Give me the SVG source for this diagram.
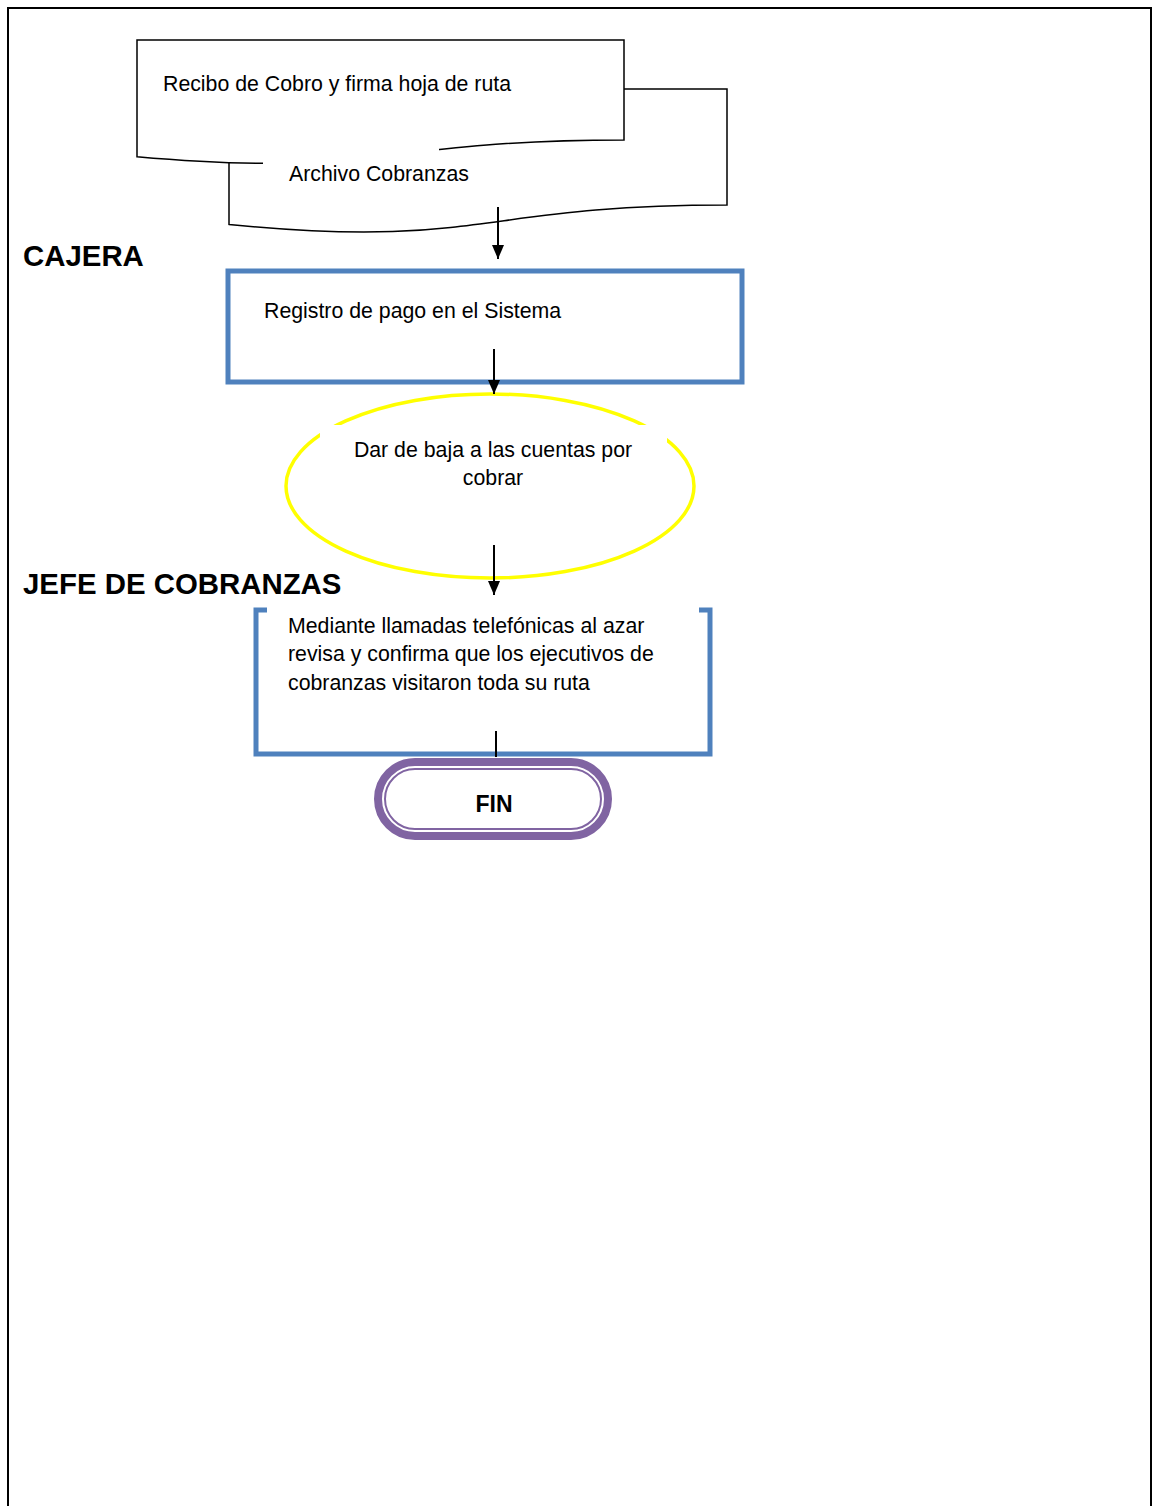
<svg xmlns="http://www.w3.org/2000/svg" width="1152" height="1506" viewBox="0 0 1152 1506">
<defs>
<marker id="ah" markerWidth="14" markerHeight="12" refX="14" refY="6" orient="auto" markerUnits="userSpaceOnUse" viewBox="0 0 14 12">
<path d="M0,0 L14,6 L0,12 Z" fill="#000"/>
</marker>
<style>
.t{font-family:"Liberation Sans",Arial,sans-serif;font-size:21.3px;fill:#000}
.b{font-family:"Liberation Sans",Arial,sans-serif;font-weight:bold;fill:#000}
.doc{fill:#fff;stroke:#000;stroke-width:1.5}
.blue{fill:none;stroke:#4f81bd;stroke-width:5}
.conn{stroke:#000;stroke-width:2;fill:none}
</style>
</defs>
<rect width="1152" height="1506" fill="#fff"/>
<path d="M8,1506 V8 H1151 V1506" fill="none" stroke="#000" stroke-width="2"/>

<g id="doc-archivo">
<path class="doc" d="M229,89 H727 V205 C478,205 478,249.6 229,224.4 Z"/>
</g>
<g id="doc-recibo">
<path class="doc" d="M137,40 H624 V140 C380.5,140 380.5,178.4 137,156.7 Z"/>
<text class="t" x="163" y="91">Recibo de Cobro y firma hoja de ruta</text>
</g>
<g id="label-archivo">
<rect x="263" y="146" width="176" height="50" fill="#fff"/>
<text class="t" x="289" y="181">Archivo Cobranzas</text>
</g>

<g id="lane-cajera">
<text class="b" x="23" y="266" font-size="29.4">CAJERA</text>
</g>
<g id="lane-jefe">
<text class="b" x="23" y="594" font-size="29.4">JEFE DE COBRANZAS</text>
</g>

<g id="registro">
<rect class="blue" x="228" y="271" width="514" height="111" fill="#fff"/>
<text class="t" x="264" y="318">Registro de pago en el Sistema</text>
</g>

<g id="dar-baja">
<ellipse cx="490" cy="486" rx="204" ry="92" fill="#fff" stroke="#ffff00" stroke-width="3.5"/>
<rect x="320" y="425" width="347" height="95" fill="#fff"/>
<text class="t" x="493" y="457" text-anchor="middle">Dar de baja a las cuentas por</text>
<text class="t" x="493" y="485" text-anchor="middle">cobrar</text>
</g>

<g id="mediante">
<path class="blue" d="M267,610 H256 V754 H710 V610 H699"/>
<text class="t" x="288" y="633">Mediante llamadas telefónicas al azar</text>
<text class="t" x="288" y="661">revisa y confirma que los ejecutivos de</text>
<text class="t" x="288" y="690">cobranzas visitaron toda su ruta</text>
</g>

<g id="fin">
<rect x="378" y="762" width="230" height="74" rx="37" fill="#fff" stroke="#8064a2" stroke-width="8"/>
<rect x="385" y="769" width="216" height="60" rx="30" fill="none" stroke="#8064a2" stroke-width="2"/>
<text class="b" x="494" y="812" font-size="23" text-anchor="middle">FIN</text>
</g>

<g id="connectors">
<line class="conn" x1="498" y1="207" x2="498" y2="259" marker-end="url(#ah)"/>
<line class="conn" x1="494" y1="349" x2="494" y2="394" marker-end="url(#ah)"/>
<line class="conn" x1="494" y1="545" x2="494" y2="595" marker-end="url(#ah)"/>
<line class="conn" x1="496" y1="731" x2="496" y2="757"/>
</g>
</svg>
